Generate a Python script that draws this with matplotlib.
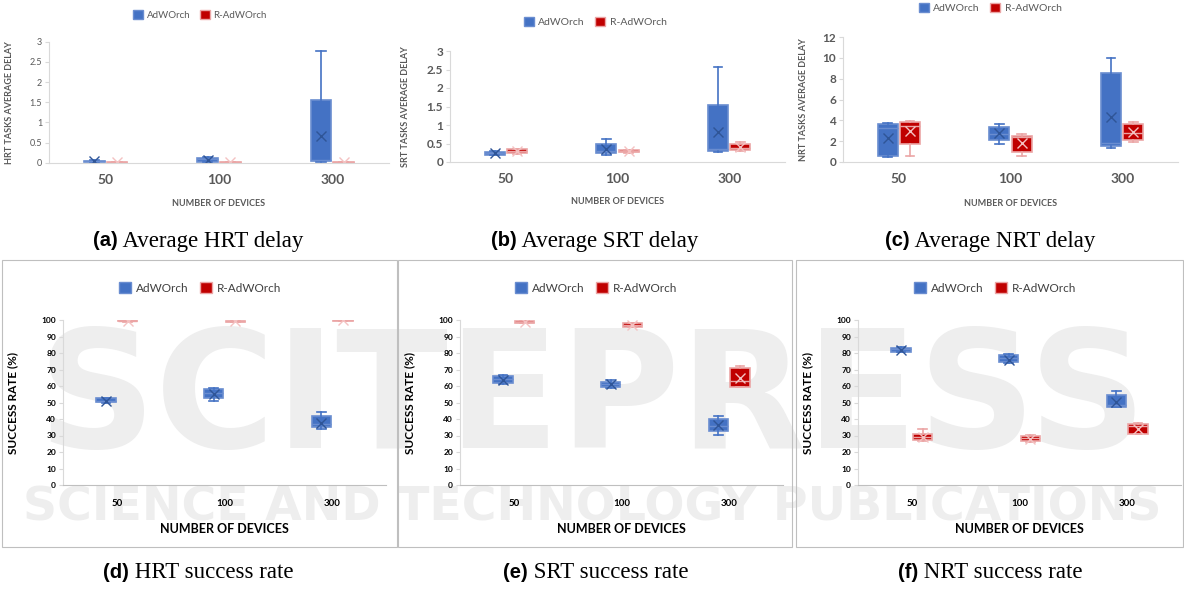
import matplotlib
matplotlib.use("Agg")
import matplotlib.pyplot as plt
from matplotlib.patches import Patch, Rectangle

W, H = 1184, 590

devices = ["50", "100", "300"]
series_names = ["AdWOrch", "R-AdWOrch"]

# each row: [whisker low, q1, median, q3, whisker high, mean]
hrt_delay_adw = [[0.0, 0.01, 0.03, 0.05, 0.06, 0.03],
                 [0.01, 0.02, 0.08, 0.12, 0.13, 0.07],
                 [0.01, 0.03, 0.07, 1.55, 2.78, 0.65]]
hrt_delay_radw = [[0.0, 0.0, 0.01, 0.02, 0.02, 0.01],
                  [0.0, 0.0, 0.01, 0.02, 0.02, 0.01],
                  [0.0, 0.0, 0.01, 0.02, 0.02, 0.01]]

srt_delay_adw = [[0.18, 0.2, 0.24, 0.28, 0.3, 0.25],
                 [0.2, 0.25, 0.3, 0.48, 0.62, 0.35],
                 [0.26, 0.3, 0.36, 1.53, 2.58, 0.8]]
srt_delay_radw = [[0.22, 0.24, 0.29, 0.35, 0.36, 0.29],
                  [0.25, 0.26, 0.29, 0.32, 0.33, 0.29],
                  [0.3, 0.32, 0.38, 0.5, 0.55, 0.4]]

nrt_delay_adw = [[0.5, 0.54, 3.3, 3.66, 3.7, 2.35],
                 [1.75, 2.07, 2.67, 3.4, 3.63, 2.77],
                 [1.34, 1.5, 1.8, 8.5, 10.0, 4.36]]
nrt_delay_radw = [[0.54, 1.75, 3.5, 3.8, 3.9, 2.93],
                  [0.54, 0.95, 2.4, 2.5, 2.67, 1.8],
                  [1.88, 2.07, 2.77, 3.66, 3.82, 2.87]]

hrt_success_adw = [[50, 50.3, 51, 52.5, 53, 51],
                   [51, 53, 55.5, 58, 59, 55],
                   [34, 35, 37, 42, 44, 37.5]]
hrt_success_radw = [[99, 99.3, 99.6, 100, 100, 99.6],
                    [98.6, 99, 99.3, 99.6, 99.8, 99.2],
                    [99.3, 99.5, 99.8, 100, 100, 99.7]]

srt_success_adw = [[61, 61.6, 64, 66, 66.7, 63.5],
                   [58.6, 59.6, 61, 62.6, 63.4, 61],
                   [30.3, 33, 36, 40, 42, 36.5]]
srt_success_radw = [[98, 98.3, 99, 99.6, 100, 99],
                    [95.5, 96, 97, 98, 98.3, 97],
                    [59.2, 59.6, 63, 71, 72, 65]]

nrt_success_adw = [[80.5, 80.8, 82.2, 83.2, 83.8, 82],
                   [73.7, 74.3, 76.8, 78.8, 79.2, 76],
                   [47, 47.5, 48.5, 54.5, 57, 50.5]]
nrt_success_radw = [[26.7, 27.3, 29.3, 30.7, 34, 29],
                    [26.3, 26.9, 28.7, 29.7, 30.3, 28],
                    [31, 31, 35.8, 37, 37.8, 34]]

BLUE, BLUE_EDGE, BLUE_MEAN = "#4472C4", "#6A8DD0", "#2F5597"
RED, RED_EDGE, RED_MEAN = "#C00000", "#EBA5A5", "#F4C2C2"

plt.rcParams["font.family"] = ["Lato", "DejaVu Sans"]


def px_axes(fig, left, top, right, bottom):
    return fig.add_axes([left / W, 1 - bottom / H, (right - left) / W, (bottom - top) / H])


def stats_of(rows):
    return [dict(whislo=r[0], q1=r[1], med=r[2], q3=r[3], whishi=r[4], mean=r[5])
            for r in rows]


def draw_boxes(ax, rows, offset, fill, edge, mean_col, whisk_col):
    pos = [i + 1 + offset for i in range(len(rows))]
    ax.bxp(stats_of(rows), positions=pos, widths=0.18, patch_artist=True,
           showmeans=True, showfliers=False, manage_ticks=False, capwidths=0.08,
           boxprops=dict(facecolor=fill, edgecolor=edge, linewidth=1.2),
           medianprops=dict(color=edge, linewidth=1.0),
           whiskerprops=dict(color=whisk_col, linewidth=1.2),
           capprops=dict(color=whisk_col, linewidth=1.2),
           meanprops=dict(marker="x", markeredgecolor=mean_col, markersize=7,
                          markeredgewidth=1.0))


def panel(fig, rect, adw, radw, ylim, yticks, ytick_labels, ylabel, style, label_x, xlabel_y,
          legend_xy):
    left, top, right, bottom = rect
    ax = px_axes(fig, left, top, right, bottom)
    ax.set_facecolor("none")
    draw_boxes(ax, adw, -0.1, BLUE, BLUE_EDGE, BLUE_MEAN, BLUE)
    draw_boxes(ax, radw, 0.1, RED, RED_EDGE, RED_MEAN, RED_EDGE)
    ax.set_xlim(0.5, 3.5)
    ax.set_ylim(*ylim)
    ax.set_yticks(yticks)
    ax.set_yticklabels(ytick_labels)
    ax.set_xticks([1, 2, 3])
    ax.set_xticklabels(devices)
    for s in ["top", "right"]:
        ax.spines[s].set_visible(False)
    ax.spines["left"].set_color("#D9D9D9")
    ax.spines["bottom"].set_color(style["axis_col"])
    ax.tick_params(axis="x", length=0, pad=style["xpad"], labelsize=style["xtick_size"],
                   labelcolor=style["text_col"])
    ax.tick_params(axis="y", length=3, color="#D9D9D9", pad=2, labelsize=style["ytick_size"],
                   labelcolor=style["text_col"])
    for t in ax.get_xticklabels():
        t.set_fontweight("bold")
    for t in ax.get_yticklabels():
        t.set_fontweight(style["ytick_weight"])
    ax.set_ylabel(ylabel, fontsize=style["ylabel_size"], fontweight="bold",
                  color=style["text_col"])
    ax.yaxis.set_label_coords((label_x - left) / (right - left), 0.5)
    ax.set_xlabel("NUMBER OF DEVICES", fontsize=style["xlabel_size"], fontweight="bold",
                  color=style["text_col"], va="center")
    ax.xaxis.set_label_coords(0.5, (bottom - xlabel_y) / (bottom - top))
    handles = [Patch(facecolor=BLUE, edgecolor=BLUE_EDGE),
               Patch(facecolor=RED, edgecolor=RED_EDGE)]
    fig.legend(handles, series_names, loc="center",
               bbox_to_anchor=(legend_xy[0] / W, 1 - legend_xy[1] / H), ncol=2,
               frameon=False, fontsize=style["legend_size"], handlelength=1.0,
               handleheight=1.0, handletextpad=0.4, columnspacing=1.0,
               labelcolor=style["legend_col"])
    return ax


def caption(fig, xc, yc, tag, text):
    t1 = fig.text(0, 1 - yc / H, tag, family=["Liberation Sans"], fontweight="bold",
                  fontsize=14.5, va="center", ha="left")
    t2 = fig.text(0, 1 - yc / H, " " + text, family=["Liberation Serif"], fontsize=16.5,
                  va="center", ha="left")
    r = fig.canvas.get_renderer()
    w1 = t1.get_window_extent(r).width
    w2 = t2.get_window_extent(r).width
    x0 = xc - (w1 + w2) / 2
    t1.set_x(x0 / W)
    t2.set_x((x0 + w1) / W)


fig = plt.figure(figsize=(W / 100, H / 100), dpi=100)

# faint publisher watermark behind the lower row
fig.text(0.5, 1 - 402 / H, "SCITEPRESS", family=["DejaVu Sans"], fontsize=118,
         fontweight="bold", color="#EEEEEE", ha="center", va="center", zorder=-2)
fig.text(0.5, 1 - 508 / H, "SCIENCE AND TECHNOLOGY PUBLICATIONS", family=["DejaVu Sans"],
         fontsize=34, fontweight="bold", color="#EEEEEE", ha="center", va="center",
         zorder=-2)

top_a = dict(axis_col="#D9D9D9", text_col="#595959", legend_col="#595959", xpad=8,
             xtick_size=10, ytick_size=6.5, ytick_weight="normal", ylabel_size=6.5,
             xlabel_size=6.5, legend_size=7)
top_bc = dict(top_a, ytick_size=8.5, ytick_weight="bold", legend_size=7.5)
low = dict(axis_col="#BFBFBF", text_col="#000000", legend_col="#404040", xpad=10,
           xtick_size=7, ytick_size=6, ytick_weight="bold", ylabel_size=8.5,
           xlabel_size=9, legend_size=8.5)

panel(fig, (49, 41.7, 389, 162.7), hrt_delay_adw, hrt_delay_radw, (0, 3),
      [0, 0.5, 1, 1.5, 2, 2.5, 3], ["0", "0.5", "1", "1.5", "2", "2.5", "3"],
      "HRT TASKS AVERAGE DELAY", top_a, 14, 203, (200, 15))
panel(fig, (450, 51, 785, 162), srt_delay_adw, srt_delay_radw, (0, 3),
      [0, 0.5, 1, 1.5, 2, 2.5, 3], ["0", "0.5", "1", "1.5", "2", "2.5", "3"],
      "SRT TASKS AVERAGE DELAY", top_bc, 410, 201, (595, 22))
panel(fig, (843, 37, 1178, 162), nrt_delay_adw, nrt_delay_radw, (0, 12),
      [0, 2, 4, 6, 8, 10, 12], ["0", "2", "4", "6", "8", "10", "12"],
      "NRT TASKS AVERAGE DELAY", top_bc, 808, 203, (990, 8))

pct = list(range(0, 101, 10))
pct_labels = [str(v) for v in pct]
panel(fig, (63, 320, 386, 485), hrt_success_adw, hrt_success_radw, (0, 100), pct,
      pct_labels, "SUCCESS RATE (%)", low, 18, 529, (200, 288))
panel(fig, (460, 320, 783, 485), srt_success_adw, srt_success_radw, (0, 100), pct,
      pct_labels, "SUCCESS RATE (%)", low, 415, 529, (596, 288))
panel(fig, (858, 320, 1181, 485), nrt_success_adw, nrt_success_radw, (0, 100), pct,
      pct_labels, "SUCCESS RATE (%)", low, 813, 529, (995, 288))

# frames around the lower panels
for x0, x1 in [(2, 397), (398, 792), (796, 1183)]:
    fig.add_artist(Rectangle((x0 / W, 1 - 547 / H), (x1 - x0) / W, (547 - 260) / H,
                             transform=fig.transFigure, fill=False,
                             edgecolor="#BFBFBF", linewidth=0.8))

caption(fig, 198, 241, "(a)", "Average HRT delay")
caption(fig, 595, 241, "(b)", "Average SRT delay")
caption(fig, 990, 241, "(c)", "Average NRT delay")
caption(fig, 198, 573, "(d)", "HRT success rate")
caption(fig, 596, 573, "(e)", "SRT success rate")
caption(fig, 990, 573, "(f)", "NRT success rate")

fig.savefig("out.png", dpi=100)
